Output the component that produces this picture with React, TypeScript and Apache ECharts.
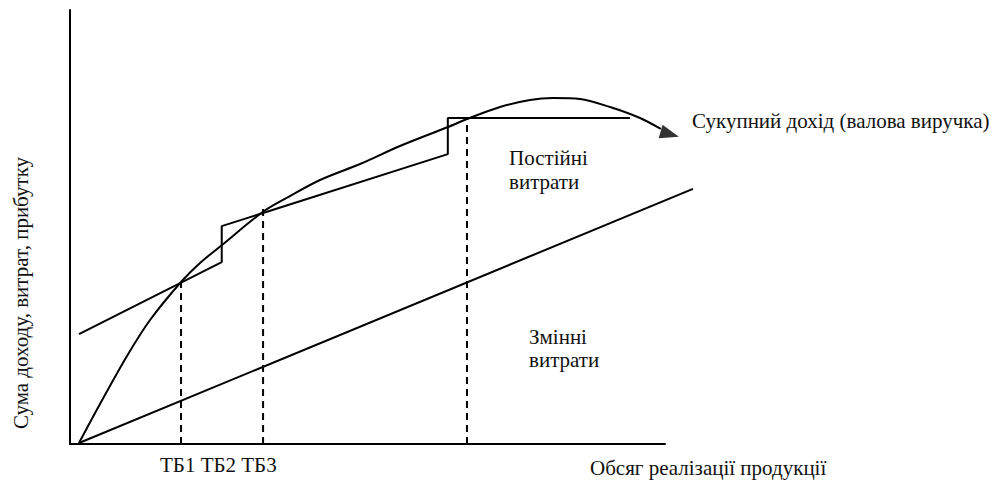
import React, { useEffect, useRef } from "react";
import * as echarts from "echarts";

// Revenue curve (x: volume, y: amount; axis length = 100)
const revenue: [number, number][] = [
  [1.51, 0.23], [5.04, 9.22], [9.58, 20.28], [13.45, 28.57], [18.66, 37.33],
  [21.85, 41.71], [25.55, 45.85], [32.61, 53.69], [36.97, 57.14], [42.02, 60.83],
  [48.74, 64.52], [55.46, 68.66], [63.53, 73.04], [66.72, 74.88], [72.27, 77.65],
  [77.31, 79.26], [81.18, 79.72], [85.71, 79.49], [90.76, 77.65], [95.8, 75.12],
  [99.3, 72.6],
];
// Arrow head at the end of the revenue curve
const arrowHead: [number, number][] = [[100.8, 71.4]];

// Fixed (step) costs
const fixedCosts: [number, number][] = [
  [1.51, 25.3], [25.5, 41.9], [25.5, 50.2], [63.5, 66.8], [63.5, 75.1], [94.1, 75.1],
];

// Variable costs
const variableCosts: [number, number][] = [
  [1.51, 0.23], [104.7, 58.8],
];

// Break-even points (x) and heights where dashed lines end
const breakEvenX = [18.66, 32.45, 66.72];
const breakEvenY = [37.33, 54.6, 75.1];

const labelTB = "ТБ1 ТБ2 ТБ3";
const labelX = "Обсяг реалізації продукції";
const labelY = "Сума доходу, витрат, прибутку";
const labelRevenue = "Сукупний дохід (валова виручка)";
const labelFixed = "Постійні\nвитрати";
const labelVariable = "Змінні\nвитрати";

const FONT = '21px "Liberation Serif", "Times New Roman", serif';
const TXT = "#111";

const hiddenAxis = {
  axisLine: { show: false }, axisTick: { show: false },
  axisLabel: { show: false }, splitLine: { show: false },
};
const shownAxis = {
  axisLine: { show: true, onZero: false, lineStyle: { color: "#000", width: 2 } },
  axisTick: { show: false }, axisLabel: { show: false }, splitLine: { show: false },
};

export default function App() {
  const ref = useRef<HTMLDivElement>(null);
  useEffect(() => {
    if (!ref.current) return;
    const chart = echarts.init(ref.current, undefined, { renderer: "svg" });
    const lineStyle = { color: "#000", width: 2 };
    const dashed = breakEvenX.map((x, i) => ({
      type: "line",
      xAxisIndex: 1, yAxisIndex: 1,
      data: [[x, 0], [x, breakEvenY[i]]],
      symbol: "none",
      clip: false,
      lineStyle: { color: "#000", width: 2, type: [7, 5] },
      z: 1,
    }));
    chart.setOption({
      animation: false,
      backgroundColor: "#fff",
      grid: [
        { left: 70, top: 10, width: 595, height: 434 },
        { left: 70, top: 10, width: 654.5, height: 434 },
      ],
      xAxis: [
        { type: "value", min: 0, max: 100, gridIndex: 0, ...shownAxis },
        { type: "value", min: 0, max: 110, gridIndex: 1, ...hiddenAxis },
      ],
      yAxis: [
        { type: "value", min: 0, max: 100, gridIndex: 0, ...shownAxis },
        { type: "value", min: 0, max: 100, gridIndex: 1, ...hiddenAxis },
      ],
      series: [
        {
          type: "line", xAxisIndex: 1, yAxisIndex: 1,
          data: revenue, symbol: "none", smooth: 0.3,
          clip: false, lineStyle, z: 3,
        },
        {
          type: "scatter", xAxisIndex: 1, yAxisIndex: 1,
          data: arrowHead, symbol: "triangle", symbolSize: [14, 19], symbolRotate: -106,
          itemStyle: { color: "#000" }, clip: false, z: 4, silent: true,
        },
        { type: "line", xAxisIndex: 1, yAxisIndex: 1, data: fixedCosts, symbol: "none", clip: false, lineStyle, z: 2 },
        { type: "line", xAxisIndex: 1, yAxisIndex: 1, data: variableCosts, symbol: "none", clip: false, lineStyle, z: 2 },
        ...dashed,
      ],
      graphic: [
        { type: "text", x: 692, y: 121, style: { text: labelRevenue, font: FONT, fill: TXT, verticalAlign: "middle" } },
        { type: "text", x: 509, y: 146, style: { text: labelFixed, font: FONT, fill: TXT, verticalAlign: "top", lineHeight: 24 } },
        { type: "text", x: 529, y: 325, style: { text: labelVariable, font: FONT, fill: TXT, verticalAlign: "top", lineHeight: 23 } },
        { type: "text", x: 160, y: 465, style: { text: labelTB, font: FONT, fill: TXT, verticalAlign: "middle" } },
        { type: "text", x: 590, y: 468, style: { text: labelX, font: FONT, fill: TXT, verticalAlign: "middle" } },
        { type: "text", x: 21, y: 293, rotation: Math.PI / 2, style: { text: labelY, font: FONT, fill: TXT, align: "center", verticalAlign: "middle" } },
      ],
    });
    return () => chart.dispose();
  }, []);
  return <div ref={ref} style={{ position: "absolute", left: 0, top: 0, width: 1003, height: 483 }} />;
}
